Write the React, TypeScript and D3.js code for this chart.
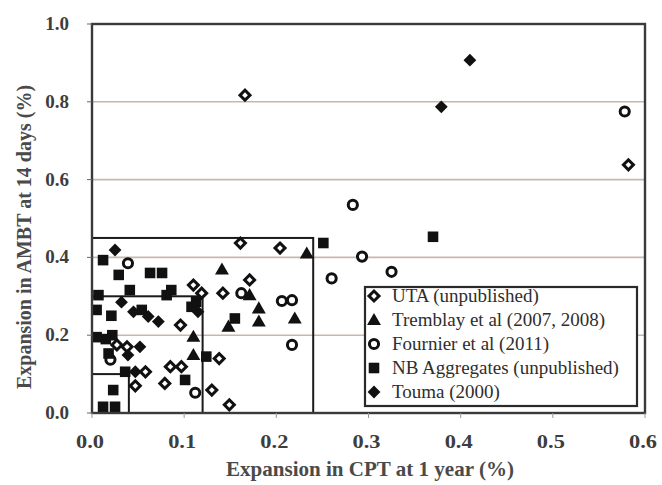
import * as d3 from "d3";
import { useRef, useEffect } from "react";

const xTicks = [0, 0.1, 0.2, 0.3, 0.4, 0.5, 0.6];
const yTicks = [0, 0.2, 0.4, 0.6, 0.8, 1.0];
const gridValues = [0.2, 0.4, 0.6, 0.8];

// limit boxes as [CPT, AMBT]
const limitBoxes = [
  [0.04, 0.1],
  [0.12, 0.3],
  [0.24, 0.45],
];

const utaPoints = [
  [0.166, 0.817], [0.582, 0.638], [0.161, 0.437], [0.204, 0.424], [0.171, 0.342],
  [0.11, 0.329], [0.119, 0.308], [0.142, 0.308], [0.096, 0.226], [0.138, 0.14],
  [0.027, 0.175], [0.038, 0.17], [0.058, 0.106], [0.097, 0.119], [0.085, 0.119],
  [0.079, 0.076], [0.047, 0.07], [0.13, 0.059], [0.149, 0.021],
];

const tremblayPoints = [
  [0.233, 0.41], [0.141, 0.369], [0.171, 0.303], [0.181, 0.269], [0.181, 0.235],
  [0.22, 0.243], [0.148, 0.222], [0.11, 0.196], [0.11, 0.149],
];

const fournierPoints = [
  [0.578, 0.775], [0.283, 0.535], [0.293, 0.402], [0.325, 0.363], [0.26, 0.346],
  [0.162, 0.308], [0.206, 0.288], [0.217, 0.29], [0.217, 0.175], [0.039, 0.385],
  [0.02, 0.137], [0.112, 0.052],
];

const nbPoints = [
  [0.37, 0.453], [0.251, 0.437], [0.012, 0.393], [0.029, 0.355], [0.063, 0.36],
  [0.076, 0.36], [0.041, 0.316], [0.086, 0.316], [0.081, 0.303], [0.007, 0.303],
  [0.005, 0.265], [0.021, 0.25], [0.054, 0.265], [0.108, 0.273], [0.113, 0.286],
  [0.155, 0.243], [0.005, 0.195], [0.015, 0.19], [0.022, 0.2], [0.018, 0.153],
  [0.124, 0.145], [0.036, 0.106], [0.101, 0.085], [0.023, 0.059], [0.012, 0.016],
  [0.025, 0.016],
];

const toumaPoints = [
  [0.41, 0.907], [0.379, 0.787], [0.025, 0.419], [0.032, 0.285], [0.045, 0.26],
  [0.061, 0.248], [0.072, 0.235], [0.115, 0.26], [0.052, 0.17], [0.039, 0.149],
  [0.047, 0.106],
];

const seriesNames = [
  "UTA (unpublished)",
  "Tremblay et al (2007, 2008)",
  "Fournier et al (2011)",
  "NB Aggregates (unpublished)",
  "Touma (2000)",
];
const seriesKinds = ["openDiamond", "triangle", "openCircle", "square", "diamond"];
const seriesPoints = [utaPoints, tremblayPoints, fournierPoints, nbPoints, toumaPoints];

const drawMarker = (g: any, kind: string, x: number, y: number) => {
  if (kind === "openDiamond") {
    g.append("path").attr("d", d3.symbol(d3.symbolSquare, 50)())
      .attr("transform", `translate(${x},${y}) rotate(45)`)
      .attr("fill", "#fff").attr("stroke", "#111").attr("stroke-width", 3);
  } else if (kind === "diamond") {
    g.append("path").attr("d", d3.symbol(d3.symbolSquare, 82)())
      .attr("transform", `translate(${x},${y}) rotate(45)`)
      .attr("fill", "#111");
  } else if (kind === "triangle") {
    g.append("path").attr("d", d3.symbol(d3.symbolTriangle, 84)())
      .attr("transform", `translate(${x},${y + 1})`)
      .attr("fill", "#111");
  } else if (kind === "openCircle") {
    g.append("path").attr("d", d3.symbol(d3.symbolCircle, 66)())
      .attr("transform", `translate(${x},${y})`)
      .attr("fill", "#fff").attr("stroke", "#111").attr("stroke-width", 3);
  } else {
    g.append("path").attr("d", d3.symbol(d3.symbolSquare, 112)())
      .attr("transform", `translate(${x},${y})`)
      .attr("fill", "#111");
  }
};

const App = () => {
  const svgRef = useRef<SVGSVGElement>(null);

  useEffect(() => {
    const w = 662;
    const h = 485;
    const svg = d3.select(svgRef.current);
    svg.selectAll("*").remove();

    const x = d3.scaleLinear().domain([0, 0.6]).range([92, 645]);
    const y = d3.scaleLinear().domain([0, 1]).range([413, 24]);
    const font = "'Liberation Serif', 'Times New Roman', serif";

    svg.append("rect").attr("width", w).attr("height", h).attr("fill", "#fff");

    // gridlines
    svg.selectAll(".grid")
      .data(gridValues)
      .join("line")
      .attr("x1", x(0)).attr("x2", x(0.6))
      .attr("y1", (d) => y(d)).attr("y2", (d) => y(d))
      .attr("stroke", "#c9b6ae").attr("stroke-width", 1.6);

    // limit boxes
    svg.selectAll(".box")
      .data(limitBoxes)
      .join("rect")
      .attr("x", x(0))
      .attr("y", (d) => y(d[1]))
      .attr("width", (d) => x(d[0]) - x(0))
      .attr("height", (d) => y(0) - y(d[1]))
      .attr("fill", "none").attr("stroke", "#1a1a1a").attr("stroke-width", 2);

    // points
    const pts = svg.append("g");
    seriesPoints.forEach((arr, i) => {
      arr.forEach((d) => drawMarker(pts, seriesKinds[i], x(d[0]), y(d[1])));
    });

    // frame
    svg.append("rect")
      .attr("x", x(0)).attr("y", y(1))
      .attr("width", x(0.6) - x(0)).attr("height", y(0) - y(1))
      .attr("fill", "none").attr("stroke", "#3a3a3a").attr("stroke-width", 2.4);

    // ticks
    svg.selectAll(".ytick")
      .data(yTicks)
      .join("line")
      .attr("x1", x(0) - 5).attr("x2", x(0))
      .attr("y1", (d) => y(d)).attr("y2", (d) => y(d))
      .attr("stroke", "#666").attr("stroke-width", 1);
    svg.selectAll(".xtick")
      .data(xTicks)
      .join("line")
      .attr("x1", (d) => x(d)).attr("x2", (d) => x(d))
      .attr("y1", y(0)).attr("y2", y(0) + 5)
      .attr("stroke", "#999").attr("stroke-width", 1);

    // tick labels
    svg.selectAll(".ylab")
      .data(yTicks)
      .join("text")
      .text((d) => d.toFixed(1))
      .attr("x", 69)
      .attr("y", (d) => y(d) + 6)
      .attr("text-anchor", "end")
      .style("font-family", font).style("font-size", "19px").style("font-weight", "bold")
      .attr("fill", "#3d3d3d");
    svg.selectAll(".xlab")
      .data(xTicks)
      .join("text")
      .text((d) => d.toFixed(1))
      .attr("x", (d) => x(d) - 2)
      .attr("y", 448)
      .attr("text-anchor", "middle")
      .attr("textLength", 28).attr("lengthAdjust", "spacingAndGlyphs")
      .style("font-family", font).style("font-size", "19px").style("font-weight", "bold")
      .attr("fill", "#3d3d3d");

    // axis titles
    svg.append("text")
      .text("Expansion in CPT at 1 year (%)")
      .attr("x", 370).attr("y", 476)
      .attr("text-anchor", "middle")
      .attr("textLength", 288).attr("lengthAdjust", "spacingAndGlyphs")
      .style("font-family", font).style("font-size", "21px").style("font-weight", "bold")
      .attr("fill", "#4a4a4a");
    svg.append("text")
      .text("Expansion in AMBT at 14 days (%)")
      .attr("transform", "translate(31,237) rotate(-90)")
      .attr("text-anchor", "middle")
      .style("font-family", font).style("font-size", "20px").style("font-weight", "bold")
      .attr("fill", "#4a4a4a");

    // legend
    const lg = svg.append("g");
    lg.append("rect")
      .attr("x", 365).attr("y", 287).attr("width", 272).attr("height", 119)
      .attr("fill", "#fff").attr("stroke", "#2a2a2a").attr("stroke-width", 2.2);
    seriesNames.forEach((name, i) => {
      const cy = 296 + i * 24;
      drawMarker(lg, seriesKinds[i], 374, cy);
      lg.append("text")
        .text(name)
        .attr("x", 392).attr("y", cy + 6)
        .style("font-family", font).style("font-size", "19px")
        .attr("fill", "#2e2e2e");
    });
  }, []);

  return (
    <svg
      ref={svgRef}
      width={662}
      height={485}
      style={{ position: "absolute", left: 0, top: 0 }}
    ></svg>
  );
};

export default App;
